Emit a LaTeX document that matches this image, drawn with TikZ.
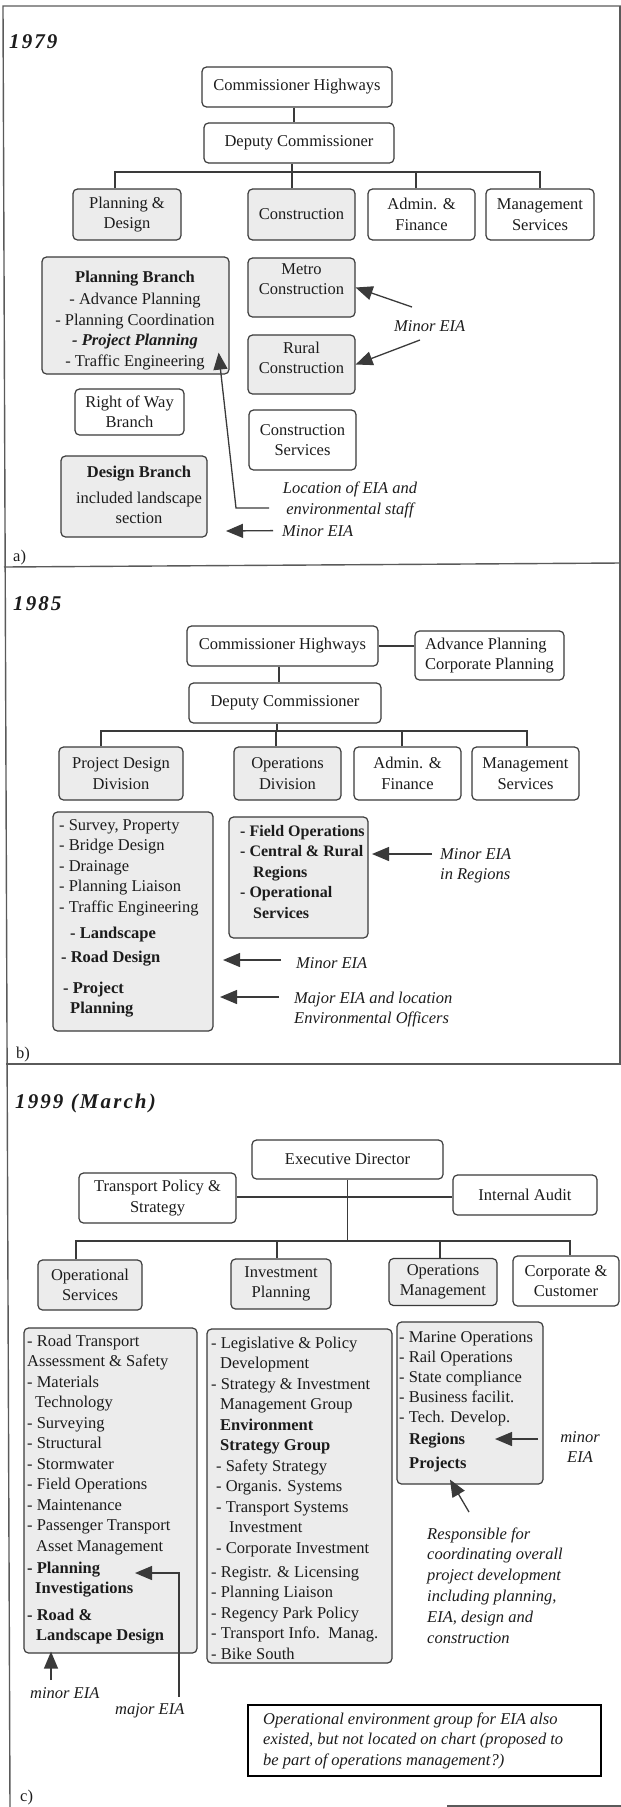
\documentclass[tikz,border=0pt]{standalone}
\usepackage{fontspec}
\setmainfont{Liberation Serif}
\usetikzlibrary{arrows.meta}

\definecolor{ink}{HTML}{1C1C1C}
\definecolor{rulegray}{HTML}{3A3A3A}
\definecolor{framegray}{HTML}{5A5A5A}
\definecolor{shade}{HTML}{ECECEC}

\newcommand\txt{\fontsize{16.5}{20.5}\selectfont}
\newcommand\yearfont{\fontsize{21}{24}\selectfont\bfseries\itshape\addfontfeature{LetterSpace=10}}

% multi-line text nodes are placed by the baseline of their last line
\tikzset{
  orgbox/.style={draw=rulegray, line width=1.2pt, rounded corners=4.5pt, inner sep=0pt,
                 align=center, font=\txt, text=ink},
  orgwhite/.style={orgbox, fill=white},
  orgshade/.style={orgbox, fill=shade},
  labeltext/.style={inner sep=0pt, font=\txt, text=ink},
  notetext/.style={inner sep=0pt, font=\txt\itshape, text=ink},
  connwire/.style={draw=rulegray, line width=1.2pt},
  eiaarrow/.style={draw=rulegray, line width=1.3pt, -{Triangle[length=17pt,width=14pt]}},
  framerule/.style={draw=framegray, line width=1.4pt},
}

\begin{document}
\begin{tikzpicture}[x=1pt, y=-1pt]
\useasboundingbox (0,0) rectangle (621,1807);

% ---------- outer frame and panel separators ----------
\draw[framerule] (621,6) -- (3,6) -- (10,1807);
\draw[framerule] (620,6) -- (620,1064);
\draw[framerule] (4,567) -- (621,563);
\draw[framerule] (6,1064) -- (621,1064);
\draw[framerule] (447,1806) -- (621,1806);

% =====================================================
% a) 1979
% =====================================================
\node[labeltext, anchor=base west, font=\yearfont] (y1) at (9,48) {1979};

\node[orgwhite, minimum width=190pt, minimum height=40pt] (ch1) at (297,87) {Commissioner Highways};
\node[orgwhite, minimum width=190pt, minimum height=40pt] (dc1) at (299,143) {Deputy Commissioner};

\node[orgshade, minimum width=108pt, minimum height=51pt] (pd1) at (127,214.5) {Planning \&\\Design};
\node[orgshade, minimum width=107pt, minimum height=51pt] (co1) at (301.5,214.5) {Construction};
\node[orgwhite, minimum width=107pt, minimum height=51pt] (af1) at (421.5,214.5) {Admin. \&\\Finance};
\node[orgwhite, minimum width=108pt, minimum height=51pt] (ms1) at (540,214.5) {Management\\Services};

\coordinate (bus1) at (292,172);
\coordinate (j1) at ([xshift=-3pt]ch1.south);
\draw[connwire] (j1) -- (j1 |- dc1.north);
\draw[connwire] (dc1.south -| bus1) -- (bus1);
\coordinate (d11) at ([xshift=-12pt]pd1.north);
\coordinate (d13) at ([xshift=-5.5pt]af1.north);
\draw[connwire] (d11) |- (bus1) -| (ms1.north);
\draw[connwire] (co1.north -| bus1) -- (bus1);
\draw[connwire] (d13) -- (d13 |- bus1);

% Planning & Design branches
\node[orgshade, minimum width=187pt, minimum height=117pt] (pb1) at (135.5,315.5) {};
\node[labeltext, align=center, anchor=base] (pb1t) at (135,366)
  {\textbf{Planning Branch}\\[2pt]
   - Advance Planning\\
   - Planning Coordination\\
   \textbf{\textit{- Project Planning}}\\
   - Traffic Engineering};
\node[orgwhite, minimum width=109pt, minimum height=46pt] (rw1) at (129.5,412) {Right of Way\\Branch};
\node[orgshade, minimum width=146pt, minimum height=81pt] (db1) at (134,496.5) {};
\node[labeltext, align=center, anchor=base] (db1t) at (139,523.5)
  {\textbf{Design Branch}\\[5.5pt] included landscape\\ section};

% Construction branches
\node[orgshade, minimum width=107pt, minimum height=59pt] (mc1) at (301.5,287.5) {};
\node[labeltext, align=center] (mc1t) at (301.5,279) {Metro\\Construction};
\node[orgshade, minimum width=107pt, minimum height=59pt] (rc1) at (301.5,364.5) {};
\node[labeltext, align=center] (rc1t) at (301.5,358) {Rural\\Construction};
\node[orgwhite, minimum width=107pt, minimum height=60pt] (cs1) at (302.5,440) {Construction\\Services};

% EIA notes
\node[notetext, anchor=base west] (mi1) at (394,331) {Minor EIA};
\coordinate (mi1a) at (412,307);
\coordinate (mi1b) at (420,340);
\draw[eiaarrow] (mi1a) -- (mc1.east);
\draw[eiaarrow] (mi1b) -- (rc1.east);

\node[notetext, align=center] (loc1) at (350,500) {Location of EIA and\\environmental staff};
\coordinate (loc1a) at (269,508);
\coordinate (loc1b) at (236,508);
\draw[eiaarrow] (loc1a) -- (loc1b) -- ([xshift=-11pt,yshift=22pt]pb1.south east);

\node[notetext, anchor=base west] (mi2) at (282,536) {Minor EIA};
\coordinate (mi2b) at (226,531);
\draw[eiaarrow] ([xshift=-9pt]mi2.west) -- (mi2b);

\node[labeltext, anchor=base west] (pa) at (13,561) {a)};

% =====================================================
% b) 1985
% =====================================================
\node[labeltext, anchor=base west, font=\yearfont] (y2) at (13,610) {1985};

\node[orgwhite, minimum width=191pt, minimum height=40pt] (ch2) at (282.5,646) {Commissioner Highways};
\node[orgwhite, minimum width=149pt, minimum height=49pt, align=left] (ap2) at (489.5,655.5)
  {Advance Planning\\Corporate Planning};
\draw[connwire] (ch2.east) -- (ch2.east -| ap2.west);
\node[orgwhite, minimum width=192pt, minimum height=40pt] (dc2) at (285,703) {Deputy Commissioner};
\coordinate (j2) at ([xshift=-3.5pt]ch2.south);
\draw[connwire] (j2) -- (j2 |- dc2.north);

\node[orgshade, minimum width=124pt, minimum height=53pt] (pd2) at (121,773.5) {Project Design\\Division};
\node[orgshade, minimum width=107pt, minimum height=53pt] (od2) at (287.5,773.5) {Operations\\Division};
\node[orgwhite, minimum width=107pt, minimum height=53pt] (af2) at (407.5,773.5) {Admin. \&\\Finance};
\node[orgwhite, minimum width=107pt, minimum height=53pt] (ms2) at (525.5,773.5) {Management\\Services};

\coordinate (bus2) at (277,731);
\draw[connwire] (dc2.south -| bus2) -- (bus2);
\coordinate (d21) at ([xshift=-20pt]pd2.north);
\coordinate (d22) at ([xshift=-11.5pt]od2.north);
\coordinate (d23) at ([xshift=-5.5pt]af2.north);
\coordinate (d24) at ([xshift=1.5pt]ms2.north);
\draw[connwire] (d21) |- (bus2) -| (d24);
\draw[connwire] (d22) -- (d22 |- bus2);
\draw[connwire] (d23) -- (d23 |- bus2);

\node[orgshade, minimum width=160pt, minimum height=219pt] (pl2) at (133,921.5) {};
\node[labeltext, align=left, anchor=base west] (pl2t) at (59,1013.5)
  {- Survey, Property\\
   - Bridge Design\\
   - Drainage\\
   - Planning Liaison\\
   - Traffic Engineering\\[5.5pt]
   \hspace*{11pt}\textbf{- Landscape}\\[3.5pt]
   \hspace*{2pt}\textbf{- Road Design}\\[10.5pt]
   \hspace*{4pt}\textbf{- Project}\\
   \hspace*{11pt}\textbf{Planning}};

\node[orgshade, minimum width=139pt, minimum height=121pt] (ol2) at (298.5,877.5) {};
\node[labeltext, align=left, anchor=base west, font=\fontsize{16}{20.5}\selectfont\bfseries] (ol2t) at (240,918)
  {- Field Operations\\
   - Central \& Rural\\
   \hspace*{13pt}Regions\\
   - Operational\\
   \hspace*{13pt}Services};

\node[notetext, align=left, anchor=base west] (mi3) at (440,879.5) {Minor EIA\\in Regions};
\coordinate (mi3a) at (432,854);
\coordinate (mi3b) at (372,854);
\draw[eiaarrow] (mi3a) -- (mi3b);

\node[notetext, anchor=base west] (mi4) at (296,968) {Minor EIA};
\coordinate (mi4a) at (281,960);
\coordinate (mi4b) at (223,960);
\draw[eiaarrow] (mi4a) -- (mi4b);

\node[notetext, align=left, anchor=base west] (mj4) at (294,1023.5) {Major EIA and location\\Environmental Officers};
\coordinate (mj4a) at (279,997);
\coordinate (mj4b) at (220,997);
\draw[eiaarrow] (mj4a) -- (mj4b);

\node[labeltext, anchor=base west] (pb) at (16,1058) {b)};

% =====================================================
% c) 1999 (March)
% =====================================================
\node[labeltext, anchor=base west, font=\yearfont] (y3) at (15,1108) {1999 (March)};

\node[orgwhite, minimum width=191pt, minimum height=39pt] (ed3) at (347.5,1159.5) {Executive Director};
\node[orgwhite, minimum width=157pt, minimum height=50pt] (tp3) at (157.5,1198) {Transport Policy \&\\Strategy};
\node[orgwhite, minimum width=144pt, minimum height=40pt] (ia3) at (525,1195) {Internal Audit};

\coordinate (h3) at (347,1197);
\draw[connwire] (tp3.east |- h3) -- (ia3.west |- h3);

\node[orgshade, minimum width=104pt, minimum height=50pt] (os3) at (90,1285) {Operational\\Services};
\node[orgshade, minimum width=100pt, minimum height=50pt] (ip3) at (281,1284) {Investment\\Planning};
\node[orgshade, minimum width=108pt, minimum height=47pt] (om3) at (443,1282) {Operations\\Management};
\node[orgwhite, minimum width=106pt, minimum height=50pt] (cc3) at (566,1281) {Corporate \&\\Customer};

\coordinate (bus3) at (347.5,1241);
\draw[connwire] (ed3.south) -- (bus3);
\coordinate (d31) at ([xshift=-14pt]os3.north);
\coordinate (d32) at ([xshift=-4pt]ip3.north);
\coordinate (d33) at ([xshift=-3pt]om3.north);
\coordinate (d34) at ([xshift=4pt]cc3.north);
\draw[connwire] (d31) |- (bus3) -| (d34);
\draw[connwire] (d32) -- (d32 |- bus3);
\draw[connwire] (d33) -- (d33 |- bus3);

\node[orgshade, minimum width=173pt, minimum height=325pt] (ol3) at (110.5,1490.5) {};
\node[labeltext, align=left, anchor=base west] (ol3t) at (27,1640.5)
  {- Road Transport\\
   Assessment \& Safety\\
   - Materials\\
   \hspace*{8pt}Technology\\
   - Surveying\\
   - Structural\\
   - Stormwater\\
   - Field Operations\\
   - Maintenance\\
   - Passenger Transport\\
   \hspace*{9pt}Asset Management\\[1.5pt]
   \textbf{- Planning}\\
   \hspace*{8pt}\textbf{Investigations}\\[6pt]
   \textbf{- Road \&}\\
   \hspace*{9pt}\textbf{Landscape Design}};

\node[orgshade, minimum width=185pt, minimum height=334pt] (il3) at (299.5,1496) {};
\node[labeltext, align=left, anchor=base west] (il3t) at (211,1659)
  {- Legislative \& Policy\\
   \hspace*{9pt}Development\\
   - Strategy \& Investment\\
   \hspace*{9pt}Management Group\\
   \hspace*{9pt}\textbf{Environment}\\
   \hspace*{9pt}\textbf{Strategy Group}\\
   \hspace*{5pt}- Safety Strategy\\
   \hspace*{5pt}- Organis. Systems\\
   \hspace*{5pt}- Transport Systems\\
   \hspace*{18pt}Investment\\
   \hspace*{5pt}- Corporate Investment\\[3.5pt]
   - Registr. \& Licensing\\
   - Planning Liaison\\
   - Regency Park Policy\\
   - Transport Info.~~Manag.\\
   - Bike South};

\node[orgshade, minimum width=146pt, minimum height=162pt] (ml3) at (470,1403) {};
\node[labeltext, align=left, anchor=base west, font=\fontsize{16.5}{20}\selectfont] (ml3t) at (399,1468)
  {- Marine Operations\\
   - Rail Operations\\
   - State compliance\\
   - Business facilit.\\
   - Tech. Develop.\\[2pt]
   \hspace*{10pt}\textbf{Regions}\\[4pt]
   \hspace*{10pt}\textbf{Projects}};

\node[notetext, align=center, anchor=base] (mi5) at (580,1462.5) {minor\\EIA};
\coordinate (mi5a) at (538,1439);
\coordinate (mi5b) at (495,1439);
\draw[eiaarrow] (mi5a) -- (mi5b);

\node[notetext, align=left, anchor=base west, font=\fontsize{16.5}{20.8}\selectfont\itshape] (resp) at (427,1643)
  {Responsible for\\
   coordinating overall\\
   project development\\
   including planning,\\
   EIA, design and\\
   construction};
\coordinate (respa) at (469,1512);
\draw[eiaarrow] (respa) -- ([xshift=-20pt,yshift=5pt]ml3.south);

\node[notetext, anchor=base west] (mi6) at (30,1698) {minor EIA};
\coordinate (mi6a) at (51,1680);
\draw[eiaarrow] (mi6a) -- ([xshift=-59.5pt,yshift=2pt]ol3.south);

\node[notetext, anchor=base west] (mj6) at (115,1714) {major EIA};
\coordinate (mj6a) at (179,1697);
\coordinate (mj6b) at (179,1573);
\coordinate (mj6c) at (135,1573);
\draw[eiaarrow] (mj6a) -- (mj6b) -- (mj6c);

\node[draw=black, line width=2.8pt, fill=white, minimum width=353pt, minimum height=71pt, inner sep=0pt] (nb3) at (424.5,1740.5) {};
\node[notetext, align=left, anchor=base west] (nb3t) at (263,1765)
  {Operational environment group for EIA also\\
   existed, but not located on chart (proposed to\\
   be part of operations management?)};

\node[labeltext, anchor=base west] (pc) at (20,1801) {c)};

\end{tikzpicture}
\end{document}
